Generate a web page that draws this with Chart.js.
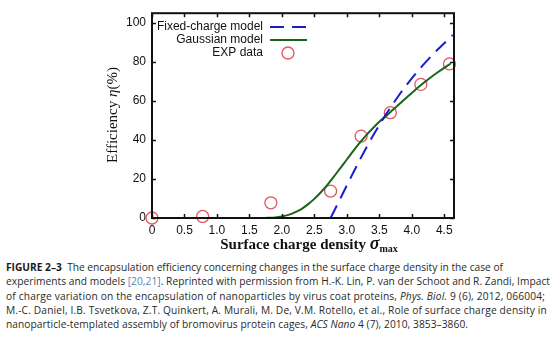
<!DOCTYPE html>
<html>
<head>
<meta charset="utf-8">
<script src="https://cdn.jsdelivr.net/npm/chart.js@4.4.0/dist/chart.umd.min.js"></script>
<style>
  body { margin: 0; background: #fff; }
  #wrap { position: relative; width: 556px; height: 256px; }
  #caption {
    position: absolute; left: 6px; top: 260px;
    font-family: "Open Sans", sans-serif; font-size: 10.2px; line-height: 14.3px;
    color: #2a2a2a; white-space: nowrap;
  }
  #caption span.ln { display: inline-block; }
  #caption b { color: #1a1a1a; }
  #caption .ref { color: #5b7fbd; }
</style>
</head>
<body>
<div id="wrap"><canvas id="effChart"></canvas></div>
<div id="caption">
  <span class="ln" data-w="497"><b>FIGURE 2–3</b>&nbsp; The encapsulation efficiency concerning changes in the surface charge density in the case of</span><br>
  <span class="ln" data-w="544">experiments and models <span class="ref">[20,21]</span>. Reprinted with permission from H.-K. Lin, P. van der Schoot and R. Zandi, Impact</span><br>
  <span class="ln" data-w="539">of charge variation on the encapsulation of nanoparticles by virus coat proteins, <i>Phys. Biol.</i> 9 (6), 2012, 066004;</span><br>
  <span class="ln" data-w="541">M.-C. Daniel, I.B. Tsvetkova, Z.T. Quinkert, A. Murali, M. De, V.M. Rotello, et al., Role of surface charge density in</span><br>
  <span class="ln" data-w="462">nanoparticle-templated assembly of bromovirus protein cages, <i>ACS Nano</i> 4 (7), 2010, 3853–3860.</span>
</div>
<script>
// tick positions on both axes
const xTickValues = [0, 0.5, 1, 1.5, 2, 2.5, 3, 3.5, 4, 4.5];
const yTickValues = [0, 20, 40, 60, 80, 100];

// fixed-charge model (dashed blue)
const fixedX = [2.75, 2.8, 2.9, 3.0, 3.1, 3.2, 3.3, 3.4, 3.5, 3.6, 3.7, 3.8, 3.9, 4.0, 4.1, 4.2, 4.3, 4.4, 4.5, 4.6, 4.63];
const fixedY = [0, 3.3, 10, 16.7, 23.3, 29.8, 36, 42, 47.6, 53, 58, 62.8, 67.3, 71.6, 75.6, 79.4, 83, 86.4, 89.6, 92.8, 93.8];

// gaussian model (solid green)
const gaussX = [1.7, 1.8, 1.9, 2.0, 2.1, 2.2, 2.3, 2.4, 2.5, 2.6, 2.7, 2.8, 2.9, 3.0, 3.1, 3.2, 3.3, 3.4, 3.5, 3.6, 3.7, 3.8, 3.9, 4.0, 4.1, 4.2, 4.3, 4.4, 4.5, 4.6];
const gaussY = [0, 0.1, 0.3, 0.8, 1.6, 2.9, 4.6, 7, 9.8, 13.2, 17, 21.2, 25.6, 30, 34.4, 38.6, 42.5, 46, 49.3, 52.2, 55.2, 58.2, 61.2, 64.1, 67, 69.7, 72.3, 74.7, 77, 79.2];

// experimental points
const expX = [0, 0.78, 1.83, 2.75, 3.22, 3.67, 4.14, 4.58];
const expY = [0, 0.8, 7.8, 13.8, 42, 54, 68.5, 79];

const toPoints = (xs, ys) => xs.map((x, i) => ({ x: x, y: ys[i] }));

// stretch each caption line to its line width with letter spacing
document.querySelectorAll('#caption span.ln').forEach(el => {
  const target = +el.dataset.w;
  const chars = el.textContent.length;
  const diff = target - el.getBoundingClientRect().width;
  el.style.letterSpacing = (diff / chars) + 'px';
});

// inward tick marks on all four sides plus the frame
const frameTicks = {
  id: 'frameTicks',
  afterDatasetsDraw(chart) {
    const { ctx, chartArea: a, scales: { x, y } } = chart;
    ctx.save();
    ctx.strokeStyle = '#111';
    ctx.lineWidth = 1.5;
    ctx.beginPath();
    xTickValues.forEach(v => {
      const px = Math.round(x.getPixelForValue(v)) + 0.5;
      ctx.moveTo(px, a.bottom); ctx.lineTo(px, a.bottom - 4);
      ctx.moveTo(px, a.top); ctx.lineTo(px, a.top + 4);
    });
    yTickValues.forEach(v => {
      const py = Math.round(y.getPixelForValue(v)) + 0.5;
      ctx.moveTo(a.left, py); ctx.lineTo(a.left + 4, py);
      ctx.moveTo(a.right, py); ctx.lineTo(a.right - 4, py);
    });
    ctx.stroke();
    ctx.lineWidth = 2;
    ctx.strokeRect(a.left, a.top, a.right - a.left, a.bottom - a.top);
    ctx.restore();
  }
};

// legend sits inside the plot, text right-aligned with the sample to its right
const innerLegend = {
  id: 'innerLegend',
  afterDraw(chart) {
    const { ctx } = chart;
    const textRight = 263, sx0 = 270, sx1 = 307;
    ctx.save();
    ctx.font = '12px "Liberation Sans", Arial, sans-serif';
    ctx.fillStyle = '#111';
    ctx.textAlign = 'right';
    ctx.textBaseline = 'middle';
    chart.data.datasets.forEach((ds, i) => {
      const yy = 27 + i * 13;
      ctx.fillText(ds.label, textRight, yy);
      ctx.strokeStyle = ds.borderColor;
      ctx.lineWidth = ds.borderWidth;
      if (ds.showLine) {
        ctx.setLineDash(ds.borderDash || []);
        ctx.beginPath();
        ctx.moveTo(sx0, yy); ctx.lineTo(sx1, yy);
        ctx.stroke();
        ctx.setLineDash([]);
      } else {
        ctx.beginPath();
        ctx.arc((sx0 + sx1) / 2 - 0.5, yy, ds.pointRadius, 0, Math.PI * 2);
        ctx.stroke();
      }
    });
    ctx.restore();
  }
};

// axis titles with italic greek letters and the subscript
const axisTitles = {
  id: 'axisTitles',
  afterDraw(chart) {
    const { ctx } = chart;
    const serif = '"Liberation Serif", "Times New Roman", serif';
    ctx.save();
    ctx.fillStyle = '#111';
    ctx.textBaseline = 'middle';
    ctx.textAlign = 'left';

    // y title
    const yParts = [
      { t: 'Efficiency ', f: '15px ' + serif },
      { t: 'η', f: 'italic 15px ' + serif },
      { t: '(%)', f: '15px ' + serif }
    ];
    let w = 0;
    yParts.forEach(p => { ctx.font = p.f; w += ctx.measureText(p.t).width; });
    ctx.translate(113, 115);
    ctx.rotate(-Math.PI / 2);
    let cx = -w / 2;
    yParts.forEach(p => { ctx.font = p.f; ctx.fillText(p.t, cx, 0); cx += ctx.measureText(p.t).width; });
    ctx.setTransform(1, 0, 0, 1, 0, 0);

    // x title
    const xParts = [
      { t: 'Surface charge density ', f: 'bold 15px ' + serif, dy: 0 },
      { t: 'σ', f: 'bold italic 18px ' + serif, dy: -1 },
      { t: 'max', f: 'bold 10px ' + serif, dy: 4 }
    ];
    w = 0;
    xParts.forEach(p => { ctx.font = p.f; w += ctx.measureText(p.t).width; });
    cx = 309 - w / 2;
    xParts.forEach(p => { ctx.font = p.f; ctx.fillText(p.t, cx, 245 + p.dy); cx += ctx.measureText(p.t).width; });
    ctx.restore();
  }
};

const tickFont = { family: '"Liberation Sans", Arial, sans-serif', size: 12 };

new Chart(document.getElementById('effChart'), {
  type: 'scatter',
  data: {
    datasets: [
      {
        label: 'Fixed-charge model',
        data: toPoints(fixedX, fixedY),
        showLine: true,
        borderColor: '#1c1ccf',
        borderWidth: 2,
        borderDash: [14, 8],
        pointRadius: 0,
        tension: 0.3
      },
      {
        label: 'Gaussian model',
        data: toPoints(gaussX, gaussY),
        showLine: true,
        borderColor: '#1b641b',
        borderWidth: 2,
        pointRadius: 0,
        tension: 0.3
      },
      {
        label: 'EXP data',
        data: toPoints(expX, expY),
        showLine: false,
        borderColor: '#e0575e',
        backgroundColor: 'rgba(0,0,0,0)',
        borderWidth: 1.3,
        pointRadius: 6,
        clip: false
      }
    ]
  },
  options: {
    responsive: true,
    maintainAspectRatio: false,
    animation: false,
    layout: { padding: { left: 0, top: 11, right: 102, bottom: 0 } },
    plugins: { legend: { display: false }, tooltip: { enabled: false } },
    scales: {
      x: {
        type: 'linear',
        min: 0,
        max: 4.65,
        grid: { display: false, drawTicks: false },
        border: { display: false },
        afterBuildTicks: axis => { axis.ticks = xTickValues.map(v => ({ value: v })); },
        afterFit: axis => { axis.height = 38; },
        ticks: { font: tickFont, color: '#111', padding: 5, maxRotation: 0, autoSkip: false }
      },
      y: {
        min: 0,
        max: 105,
        grid: { display: false, drawTicks: false },
        border: { display: false },
        afterBuildTicks: axis => { axis.ticks = yTickValues.map(v => ({ value: v })); },
        afterFit: axis => { axis.width = 152; },
        ticks: { font: tickFont, color: '#111', padding: 6 }
      }
    }
  },
  plugins: [frameTicks, innerLegend, axisTitles]
});
</script>
</body>
</html>
